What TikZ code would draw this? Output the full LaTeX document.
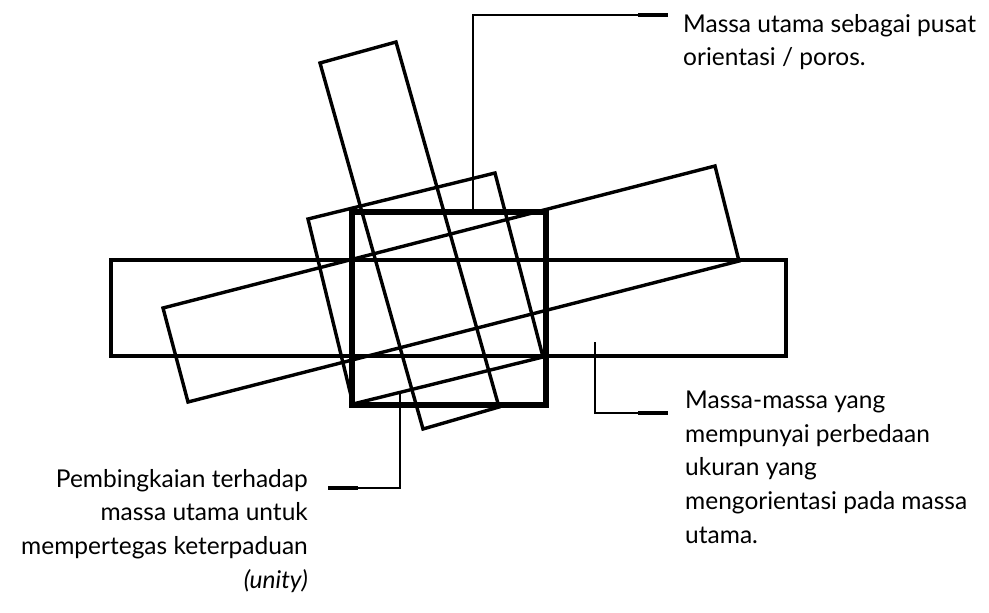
\documentclass[tikz,border=0pt]{standalone}
\usepackage{fontspec}
\setmainfont{Lato}
\begin{document}
\begin{tikzpicture}[x=1pt,y=-1pt,
  mass/.style={line width=3.4pt, line join=miter},
  frame/.style={line width=5.8pt, line join=miter},
  lead/.style={line width=1.5pt},
  leadend/.style={line width=4.5pt},
  note/.style={inner sep=0pt, font=\fontsize{24.5}{33.6}\selectfont}]
\useasboundingbox (0,0) rectangle (989,613);
% tall tilted mass
\coordinate (T1) at (320,63);
\coordinate (T2) at (396,42);
\coordinate (T3) at (499,407);
\coordinate (T4) at (423,429);
% medium tilted mass
\coordinate (M1) at (308,219);
\coordinate (M2) at (495,173);
\coordinate (M3) at (543,357);
\coordinate (M4) at (353,404);
% long tilted mass
\coordinate (L1) at (163,308);
\coordinate (L2) at (715,166);
\coordinate (L3) at (739,261);
\coordinate (L4) at (188,402);
% horizontal mass
\coordinate (H1) at (111,260);
\coordinate (H2) at (786,356);
% main mass (frame)
\coordinate (S1) at (352,212);
\coordinate (S2) at (546,405);

\draw[mass] (T1)--(T2)--(T3)--(T4)--cycle;
\draw[mass] (M1)--(M2)--(M3)--(M4)--cycle;
\draw[mass] (L1)--(L2)--(L3)--(L4)--cycle;
\draw[mass] (H1) rectangle (H2);
\draw[frame] (S1) rectangle (S2);

% notes
\node[note, anchor=north west, align=left] (n1) at (683,14)
  {Massa utama sebagai pusat\\orientasi / poros.};
\node[note, anchor=north west, align=left] (n2) at (685,391)
  {Massa-massa yang\\mempunyai perbedaan\\ukuran yang\\mengorientasi pada massa\\utama.};
\node[note, anchor=north east, align=right] (n3) at (308,469)
  {Pembingkaian terhadap\\massa utama untuk\\mempertegas keterpaduan\\\textit{(unity)}};

% leaders
\coordinate (a1) at (473,212);
\coordinate (b1) at (473,15);
\coordinate (d1) at (638,15);
\coordinate (e1) at (668,15);
\draw[lead] (a1) -- (b1) -- (e1);
\draw[leadend] (d1) -- (e1);

\coordinate (a2) at (595,342);
\coordinate (b2) at (595,413);
\coordinate (d2) at (638,413);
\coordinate (e2) at (668,413);
\draw[lead] (a2) -- (b2) -- (e2);
\draw[leadend] (d2) -- (e2);

\coordinate (a3) at (400,393);
\coordinate (b3) at (400,488);
\coordinate (d3) at (358,488);
\coordinate (e3) at (328,488);
\draw[lead] (a3) -- (b3) -- (e3);
\draw[leadend] (d3) -- (e3);
\end{tikzpicture}
\end{document}
